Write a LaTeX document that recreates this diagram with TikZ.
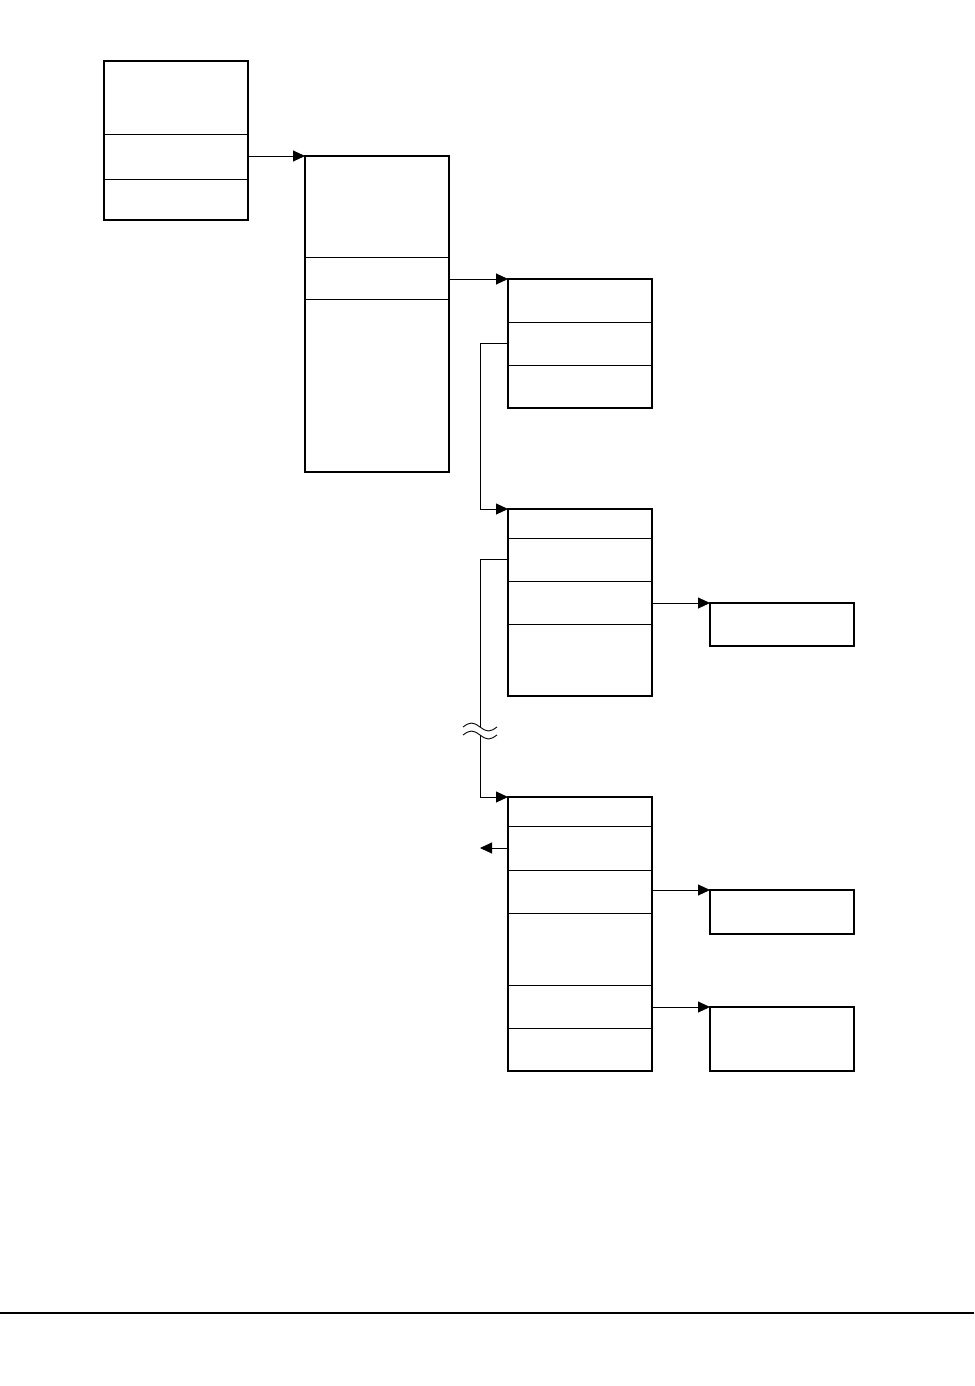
\documentclass[tikz,border=0pt]{standalone}
\usetikzlibrary{arrows.meta, positioning, fit}
\tikzset{
  cell/.style = {rectangle, draw, line width=0.9pt, inner sep=0pt, outer sep=0pt,
                 minimum width=144pt, minimum height=#1},
  frame/.style = {rectangle, draw, line width=2.2pt, inner sep=0pt, outer sep=0pt, fit=#1},
  link/.style = {line width=0.9pt},
  arrow/.style = {-{Triangle[length=12pt, width=11pt]}, line width=0.9pt},
}
\begin{document}
\begin{tikzpicture}[x=1pt, y=-1pt]
\useasboundingbox (0,0) rectangle (974,1386);

% first record
\node[cell=73pt, anchor=north west] (a1) at (104,61) {};
\node[cell=45pt, below=0pt of a1] (a2) {};
\node[cell=41pt, below=0pt of a2] (a3) {};
\node[frame={(a1)(a3)}] (a) {};

% second record
\node[cell=101pt, anchor=north west] (b1) at (305,156) {};
\node[cell=42pt, below=0pt of b1] (b2) {};
\node[cell=173pt, below=0pt of b2] (b3) {};
\node[frame={(b1)(b3)}] (b) {};

% third record
\node[cell=43pt, anchor=north west] (c1) at (508,279) {};
\node[cell=43pt, below=0pt of c1] (c2) {};
\node[cell=43pt, below=0pt of c2] (c3) {};
\node[frame={(c1)(c3)}] (c) {};

% fourth record
\node[cell=29pt, anchor=north west] (d1) at (508,509) {};
\node[cell=43pt, below=0pt of d1] (d2) {};
\node[cell=43pt, below=0pt of d2] (d3) {};
\node[cell=72pt, below=0pt of d3] (d4) {};
\node[frame={(d1)(d4)}] (d) {};

% last record
\node[cell=29pt, anchor=north west] (f1) at (508,797) {};
\node[cell=44pt, below=0pt of f1] (f2) {};
\node[cell=43pt, below=0pt of f2] (f3) {};
\node[cell=72pt, below=0pt of f3] (f4) {};
\node[cell=43pt, below=0pt of f4] (f5) {};
\node[cell=43pt, below=0pt of f5] (f6) {};
\node[frame={(f1)(f6)}] (f) {};

% side boxes
\node[cell=43pt, anchor=north west, line width=2.2pt] (e) at (710,603) {};
\node[cell=44pt, anchor=north west, line width=2.2pt] (g) at (710,890) {};
\node[cell=64pt, anchor=north west, line width=2.2pt] (h) at (710,1007) {};

% connectors
\draw[arrow] (b.north west -| a.east) -- (b.north west);
\draw[arrow] (c.north west -| b.east) -- (c.north west);
\draw[arrow] (c2.west) -- ++(-28,0) |- (d.north west);
\draw[arrow] (e.north west -| d.east) -- (e.north west);
\draw[arrow] (g.north west -| f.east) -- (g.north west);
\draw[arrow] (h.north west -| f.east) -- (h.north west);

% broken link
\coordinate (brkt) at (480,727);
\coordinate (brkb) at (480,735);
\draw[link] (d2.west) -- (d2.west -| brkt) -- (brkt);
\draw[arrow] (brkb) |- (f.north west);
\draw[link] (463,727) sin (471.5,723) cos (480,727) sin (488.5,731) cos (497,727);
\draw[link] (463,735) sin (471.5,731) cos (480,735) sin (488.5,739) cos (497,735);

% free end
\coordinate (fout) at (480,848);
\draw[arrow] (f2.west) -- (f2.west -| fout);

% rule
\draw[line width=2pt] (0,1313) -- (974,1313);
\end{tikzpicture}
\end{document}
